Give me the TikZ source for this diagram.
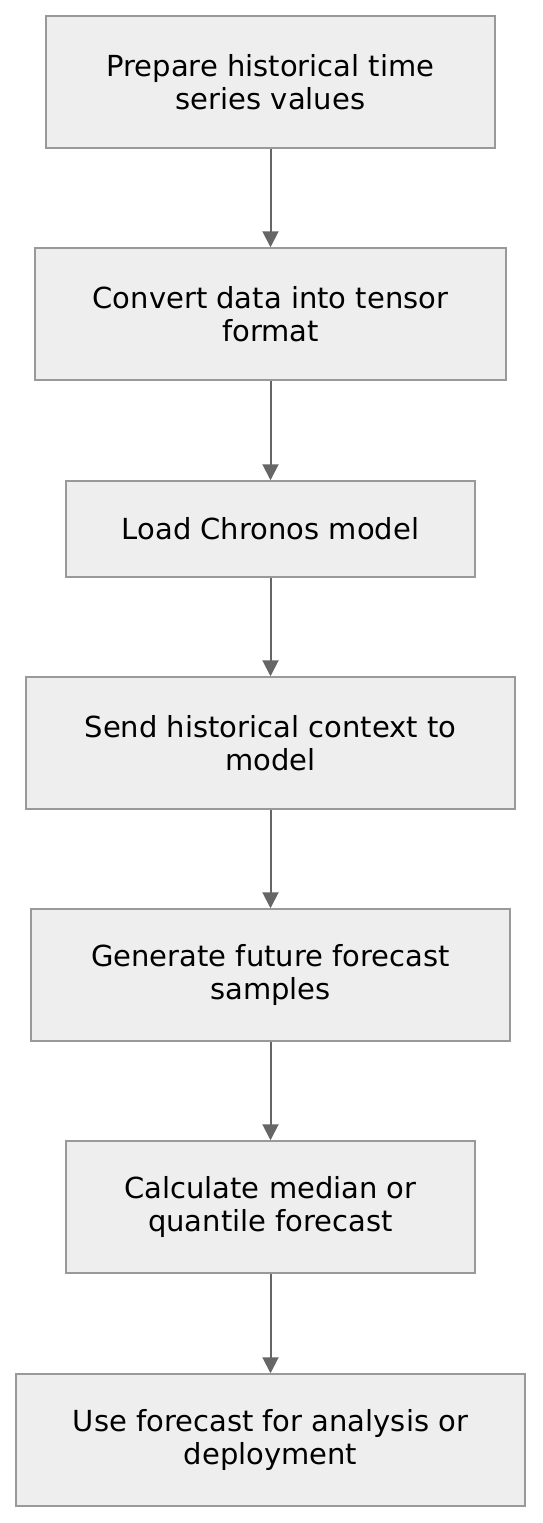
\documentclass[tikz,border=0pt]{standalone}
\usepackage{fontspec}
\setmainfont{DejaVu Sans}
\definecolor{boxfill}{HTML}{EEEEEE}
\definecolor{boxline}{HTML}{999999}
\definecolor{arrowgray}{HTML}{666666}
\tikzset{
  stepbox/.style={draw=boxline, fill=boxfill, line width=1.5pt, align=center,
    font=\fontsize{29}{33.5}\selectfont, inner sep=0pt},
  flow/.style={draw=arrowgray, line width=2pt, -{Triangle[length=16pt,width=16pt]}}
}
\usetikzlibrary{arrows.meta}
\begin{document}
\begin{tikzpicture}[x=1pt,y=-1pt]
  % Page frame
  \useasboundingbox (0,0) rectangle (542,1523);

  % Steps
  \node[stepbox, minimum width=449pt, minimum height=132pt] (prep) at (270.5,82) {Prepare historical time\\series values};
  \node[stepbox, minimum width=471pt, minimum height=132pt] (tensor) at (270.5,314) {Convert data into tensor\\format};
  \node[stepbox, minimum width=409pt, minimum height=96pt] (load) at (270.5,529) {Load Chronos model};
  \node[stepbox, minimum width=489pt, minimum height=132pt] (context) at (270.5,743) {Send historical context to\\model};
  \node[stepbox, minimum width=479pt, minimum height=132pt] (samples) at (270.5,975) {Generate future forecast\\samples};
  \node[stepbox, minimum width=409pt, minimum height=132pt] (median) at (270.5,1207) {Calculate median or\\quantile forecast};
  \node[stepbox, minimum width=509pt, minimum height=132pt] (use) at (270.5,1440) {Use forecast for analysis or\\deployment};

  % Arrows
  \draw[flow] (prep) -- (tensor);
  \draw[flow] (tensor) -- (load);
  \draw[flow] (load) -- (context);
  \draw[flow] (context) -- (samples);
  \draw[flow] (samples) -- (median);
  \draw[flow] (median) -- (use);
\end{tikzpicture}
\end{document}
